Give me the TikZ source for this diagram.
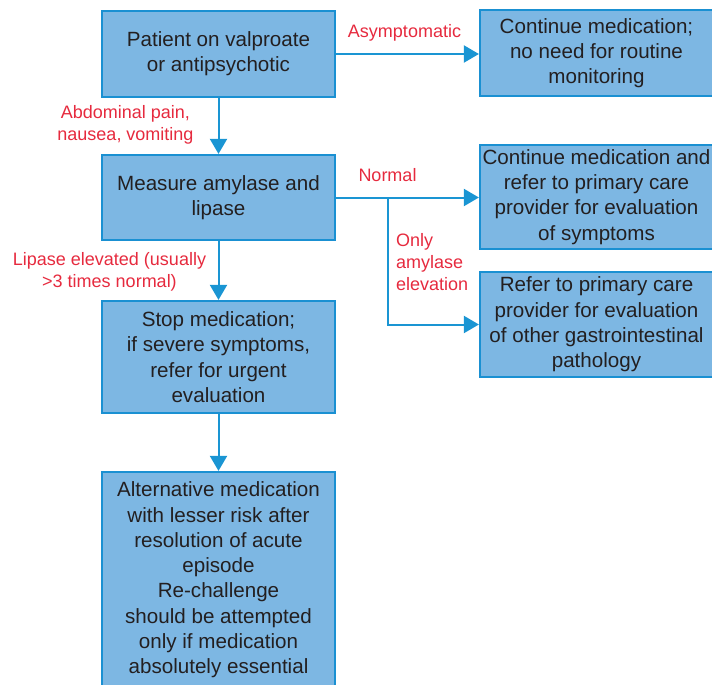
\documentclass[tikz,border=0pt]{standalone}
\usepackage{fontspec}
\setmainfont{Liberation Sans}
\usetikzlibrary{arrows.meta}
\definecolor{boxfill}{HTML}{7DB7E3}
\definecolor{boxline}{HTML}{1A90D2}
\definecolor{flowline}{HTML}{1A95D3}
\definecolor{cuered}{HTML}{E62A3E}
\definecolor{ink}{HTML}{231F20}
\begin{document}
\begin{tikzpicture}[x=1pt,y=-1pt,
  stepbox/.style={draw=boxline, fill=boxfill, line width=2.2pt, text=ink,
    align=center, inner sep=0pt, minimum width=233pt,
    font=\fontsize{20.6}{25.3}\selectfont},
  cue/.style={text=cuered, align=center, inner sep=0pt,
    font=\fontsize{18}{22}\selectfont},
  flow/.style={draw=flowline, line width=2pt,
    -{Triangle[width=17pt,length=15pt]}}]
\useasboundingbox (0,0) rectangle (712,685);

% decision boxes
\node[stepbox, minimum height=86pt] (b1) at (218.5,54)
  {Patient on valproate\\or antipsychotic};
\node[stepbox, minimum height=86pt] (b2) at (596.5,53)
  {Continue medication;\\no need for routine\\monitoring};
\node[stepbox, minimum height=85pt] (b3) at (218.5,197.5)
  {Measure amylase and\\lipase};
\node[stepbox, minimum height=104pt] (b4) at (596.5,197)
  {Continue medication and\\refer to primary care\\provider for evaluation\\of symptoms};
\node[stepbox, minimum height=105pt] (b5) at (596.5,324.5)
  {Refer to primary care\\provider for evaluation\\of other gastrointestinal\\pathology};
\node[stepbox, minimum height=112pt] (b6) at (218.5,357)
  {Stop medication;\\if severe symptoms,\\refer for urgent\\evaluation};
\node[stepbox, minimum height=216pt] (b7) at (218.5,580)
  {Alternative medication\\with lesser risk after\\resolution of acute\\episode\\Re-challenge\\should be attempted\\only if medication\\absolutely essential};

% branch point on the amylase/lipase result line
\coordinate (fork) at (388,0);

% connectors
\draw[flow] (b1.south) -- (b3.north);
\draw[flow] (b1.east) -- (b1.east -| b2.west);
\draw[flow] (b3.east) -- (b3.east -| b4.west);
\draw[flow] (b3.east -| fork) |- (b5.west);
\draw[flow] (b3.south) -- (b6.north);
\draw[flow] (b6.south) -- (b7.north);

% connector labels
\node[cue, anchor=base] (lasym) at (404.5,38) {Asymptomatic};
\node[cue, anchor=north] (labd) at (125.5,105) {Abdominal pain,\\nausea, vomiting};
\node[cue, anchor=base] (lnorm) at (387.5,181) {Normal};
\node[cue, anchor=north west, align=left] (lamy) at (396,233) {Only\\amylase\\elevation};
\node[cue, anchor=north] (llip) at (109.5,252) {Lipase elevated (usually\\>3 times normal)};
\end{tikzpicture}
\end{document}
